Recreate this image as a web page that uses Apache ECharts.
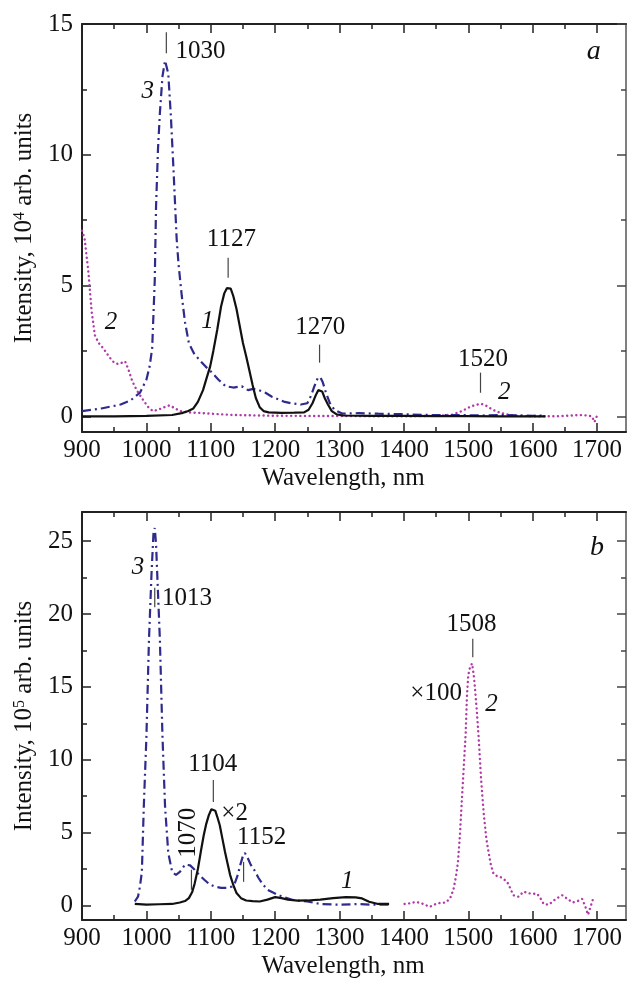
<!DOCTYPE html>
<html>
<head>
<meta charset="utf-8">
<script src="https://cdn.jsdelivr.net/npm/echarts@6/dist/echarts.min.js"></script>
<style>
  html, body { margin: 0; padding: 0; background: #fff; }
  #chart { width: 628px; height: 985px; }
</style>
</head>
<body>
<div id="chart"></div>
<script>
// ---- data (wavelength nm, intensity) ----
// panel a, units 10^4
const aCurve1 = [[900,0],[950,0],[1000,0.02],[1040,0.05],[1055,0.12],[1065,0.2],[1073,0.3],[1080,0.55],[1088,1.0],[1094,1.5],[1099,1.9],[1104,2.5],[1110,3.3],[1116,4.2],[1121,4.7],[1125,4.9],[1128,4.95],[1131,4.88],[1135,4.6],[1140,4.1],[1145,3.45],[1150,2.8],[1155,2.3],[1160,1.75],[1165,1.2],[1170,0.7],[1176,0.35],[1182,0.2],[1190,0.15],[1210,0.13],[1230,0.14],[1245,0.15],[1252,0.25],[1258,0.5],[1263,0.8],[1267,1.0],[1270,1.05],[1273,0.95],[1277,0.7],[1282,0.45],[1288,0.2],[1295,0.08],[1305,0.03],[1350,0.02],[1400,0.02],[1450,0.01],[1500,0.01],[1550,0],[1600,0],[1620,0]];
const aCurve2 = [[900,7.1],[904,6.8],[910,5.5],[915,4.0],[920,3.1],[926,2.8],[933,2.6],[943,2.25],[950,2.05],[956,2.0],[962,2.05],[967,2.1],[972,1.8],[978,1.35],[985,1.0],[995,0.62],[1003,0.35],[1010,0.2],[1018,0.25],[1026,0.33],[1036,0.42],[1045,0.3],[1052,0.2],[1065,0.15],[1082,0.13],[1100,0.1],[1134,0.05],[1200,0.02],[1300,0.01],[1400,0],[1450,0.02],[1475,0.06],[1490,0.2],[1500,0.33],[1510,0.43],[1520,0.48],[1530,0.38],[1537,0.26],[1548,0.15],[1558,0.08],[1575,0.02],[1600,0],[1634,0],[1655,0.02],[1672,0.05],[1685,0.03],[1692,0],[1696,-0.22],[1700,0.02]];
const aCurve3 = [[900,0.2],[930,0.3],[960,0.45],[975,0.6],[990,0.9],[1000,1.4],[1005,1.9],[1009,2.6],[1013,5.2],[1015,8.0],[1018,10.2],[1021,11.6],[1025,13.0],[1029,13.6],[1031,13.65],[1034,13.1],[1038,11.5],[1042,9.5],[1047,6.8],[1050,5.8],[1055,4.6],[1060,3.6],[1066,2.8],[1074,2.4],[1082,2.17],[1092,1.9],[1102,1.67],[1112,1.4],[1123,1.15],[1135,1.1],[1148,1.15],[1158,1.0],[1166,1.05],[1175,1.0],[1185,0.9],[1195,0.75],[1205,0.65],[1215,0.55],[1225,0.5],[1240,0.45],[1250,0.5],[1256,0.8],[1261,1.15],[1266,1.45],[1270,1.5],[1274,1.3],[1279,0.9],[1285,0.5],[1292,0.25],[1305,0.1],[1330,0.12],[1360,0.1],[1400,0.08],[1440,0.05],[1480,0.05],[1520,0.03],[1560,0.05],[1600,0.02],[1620,0.03]];

// panel b, units 10^5 (curve 1 x2, curve 2 x100)
const bCurve1 = [[982,0.1],[1000,0.05],[1020,0.08],[1040,0.1],[1052,0.2],[1060,0.3],[1066,0.5],[1071,0.9],[1075,1.5],[1080,2.5],[1085,3.8],[1089,4.8],[1093,5.6],[1097,6.2],[1101,6.6],[1104,6.67],[1107,6.5],[1110,6.1],[1114,5.5],[1118,4.6],[1122,3.7],[1126,2.9],[1130,2.1],[1135,1.4],[1140,0.85],[1147,0.5],[1155,0.34],[1165,0.3],[1176,0.27],[1188,0.4],[1200,0.57],[1210,0.5],[1220,0.4],[1235,0.33],[1250,0.34],[1270,0.4],[1290,0.5],[1310,0.57],[1325,0.55],[1335,0.48],[1346,0.25],[1360,0.1],[1377,0.1]];
const bCurve2 = [[1401,0.1],[1410,0.15],[1419,0.25],[1430,0.1],[1440,-0.1],[1452,0.15],[1465,0.2],[1472,0.5],[1477,1.1],[1481,2.0],[1484,3.0],[1487,4.8],[1490,7.2],[1493,9.5],[1496,11.8],[1498,14.4],[1500,15.8],[1503,16.4],[1506,16.6],[1509,15.6],[1511,14.6],[1513,13.5],[1516,11.6],[1520,8.6],[1524,6.3],[1528,4.6],[1531,3.8],[1535,2.8],[1539,2.2],[1545,2.0],[1550,1.95],[1555,1.8],[1560,1.65],[1565,1.2],[1570,0.7],[1578,0.6],[1586,0.95],[1592,0.85],[1599,0.8],[1607,0.8],[1612,0.5],[1617,0.1],[1625,0.05],[1636,0.45],[1646,0.7],[1654,0.45],[1662,0.2],[1670,0.3],[1677,0.45],[1682,-0.1],[1686,-0.64],[1692,0.2],[1695,0.6]];
const bCurve3 = [[982,0.27],[987,0.6],[990,1.3],[993,2.3],[996,6.8],[1000,11.5],[1004,18.2],[1008,22.8],[1011,25.5],[1013,25.9],[1015,24.8],[1018,21.5],[1021,18.2],[1025,11.6],[1029,6.8],[1034,3.6],[1040,2.3],[1046,2.1],[1052,2.3],[1060,2.8],[1068,2.75],[1075,2.45],[1082,2.1],[1090,1.76],[1098,1.45],[1106,1.3],[1116,1.2],[1126,1.2],[1133,1.3],[1138,1.6],[1142,2.1],[1146,2.8],[1150,3.4],[1153,3.6],[1157,3.3],[1162,2.8],[1168,2.4],[1174,1.9],[1180,1.5],[1188,1.08],[1196,0.9],[1204,0.73],[1215,0.55],[1225,0.4],[1238,0.32],[1250,0.27],[1270,0.1],[1300,0.05],[1330,0.1],[1350,0.05],[1377,0.05]];

// ticks
const xMajor = [900, 1000, 1100, 1200, 1300, 1400, 1500, 1600, 1700];
const xMinor = [950, 1050, 1150, 1250, 1350, 1450, 1550, 1650];
const aYMajor = [0, 5, 10, 15];
const aYMinor = [2.5, 7.5, 12.5];
const bYMajor = [0, 5, 10, 15, 20, 25];
const bYMinor = [2.5, 7.5, 12.5, 17.5, 22.5];

// annotations [text, wavelength, intensity, italic, rotated]
const aNotes = [
  ['1030', 1084, 13.97], ['1127', 1132, 6.75], ['1270', 1270, 3.39], ['1520', 1523, 2.17],
  ['3', 1002, 12.44, 1], ['1', 1095, 3.61, 1], ['2', 945, 3.58, 1], ['2', 1556, 0.9, 1], ['a', 1695, 13.93, 1]
];
const aPeakTicks = [[1031, 13.88, 14.68], [1127, 5.3, 6.06], [1269, 2.05, 2.74], [1519, 0.9, 1.67]];
const bNotes = [
  ['1013', 1063, 21.07], ['1508', 1505, 19.3], ['\u00d7100', 1450, 14.57], ['1104', 1103, 9.7],
  ['\u00d72', 1137, 6.28], ['1152', 1179, 4.64], ['1070', 1066, 4.98, 0, 1],
  ['3', 987, 23.2, 1], ['2', 1536, 13.8, 1], ['1', 1312, 1.62, 1], ['b', 1700, 24.57, 1]
];
const bPeakTicks = [[1013, 20.46, 21.8], [1507, 17.03, 18.3], [1104, 7.1, 8.61], [1151, 1.62, 2.99], [1070, 1.08, 2.45]];

const FONT = '"Liberation Serif", "Times New Roman", serif';
const INK = '#111';
const BLUE = '#2e2b8c';
const MAGENTA = '#b03aa6';
const X_MIN = 900, X_MAX = 1745;
const FS = 25;

const chart = echarts.init(document.getElementById('chart'));

const plain = v => String(v);

function xAxes(grid) {
  const base = { gridIndex: grid, type: 'value', min: X_MIN, max: X_MAX, splitLine: { show: false } };
  const line = { show: true, onZero: false, lineStyle: { color: '#222', width: 2 } };
  const hidden = { show: false, onZero: false };
  const tick = (vals, len) => ({ inside: true, length: len, customValues: vals, lineStyle: { color: '#222', width: 1.5 } });
  return [
    Object.assign({}, base, {
      position: 'bottom',
      axisLine: line,
      axisTick: tick(xMajor, 9),
      axisLabel: { customValues: xMajor, formatter: plain, margin: 6, fontFamily: FONT, fontSize: FS, color: INK },
      name: 'Wavelength, nm',
      nameLocation: 'middle',
      nameGap: 34,
      nameTextStyle: { fontFamily: FONT, fontSize: FS, color: INK, padding: [0, 22, 0, 0] }
    }),
    Object.assign({}, base, { position: 'bottom', axisLine: hidden, axisTick: tick(xMinor, 5), axisLabel: { show: false } }),
    Object.assign({}, base, { position: 'top', axisLine: line, axisTick: tick(xMajor, 9), axisLabel: { show: false } }),
    Object.assign({}, base, { position: 'top', axisLine: hidden, axisTick: tick(xMinor, 5), axisLabel: { show: false } })
  ];
}

function yAxes(grid, min, max, major, minor, exp) {
  const base = { gridIndex: grid, type: 'value', min: min, max: max, splitLine: { show: false } };
  const hidden = { show: false, onZero: false };
  const tick = (vals, len, c) => ({ inside: true, length: len, customValues: vals, lineStyle: { color: c, width: 1.5 } });
  return [
    Object.assign({}, base, {
      position: 'left',
      axisLine: { show: true, onZero: false, lineStyle: { color: '#222', width: 2 } },
      axisTick: tick(major, 9, '#222'),
      axisLabel: { customValues: major, formatter: plain, margin: 9, fontFamily: FONT, fontSize: FS, color: INK },
      name: '{t|Intensity, 10}{s|' + exp + '}{t| arb. units}',
      nameLocation: 'middle',
      nameRotate: 90,
      nameGap: 42,
      nameTextStyle: {
        color: INK,
        rich: {
          t: { fontFamily: FONT, fontSize: FS, color: INK },
          s: { fontFamily: FONT, fontSize: 16, color: INK, verticalAlign: 'top' }
        }
      }
    }),
    Object.assign({}, base, { position: 'left', axisLine: hidden, axisTick: tick(minor, 5, '#222'), axisLabel: { show: false } }),
    Object.assign({}, base, {
      position: 'right',
      axisLine: { show: true, onZero: false, lineStyle: { color: '#555', width: 1.5 } },
      axisTick: tick(major, 9, '#444'),
      axisLabel: { show: false }
    }),
    Object.assign({}, base, { position: 'right', axisLine: hidden, axisTick: tick(minor, 5, '#444'), axisLabel: { show: false } })
  ];
}

function curve(data, axis, style) {
  return {
    type: 'line',
    xAxisIndex: axis,
    yAxisIndex: axis,
    data: data,
    symbol: 'none',
    silent: true,
    lineStyle: style,
    z: style.z || 2
  };
}

const solid = { color: '#111', width: 2.2, type: 'solid', z: 4 };
const dashDot = { color: BLUE, width: 2.2, type: [9, 4, 2, 4], z: 3 };
const dotted = { color: MAGENTA, width: 2.4, type: [0.1, 4.5], cap: 'round', z: 2 };

// text labels placed through the axes
function notes(axis, list) {
  return {
    type: 'custom',
    xAxisIndex: axis,
    yAxisIndex: axis,
    silent: true,
    z: 6,
    clip: false,
    data: list.map(n => [n[1], n[2]]),
    renderItem: (params, api) => {
      const n = list[params.dataIndex];
      const p = api.coord([api.value(0), api.value(1)]);
      const big = n[0] === 'a' || n[0] === 'b';
      return {
        type: 'text',
        x: p[0],
        y: p[1],
        rotation: n[4] ? Math.PI / 2 : 0,
        style: {
          text: n[0],
          fill: INK,
          font: (n[3] ? 'italic ' : '') + (big ? 28 : FS) + 'px ' + FONT,
          align: 'center',
          verticalAlign: 'middle'
        }
      };
    }
  };
}

// short pointer lines above peaks
function pointers(axis, ticks) {
  return {
    type: 'custom',
    xAxisIndex: axis,
    yAxisIndex: axis,
    silent: true,
    z: 5,
    data: ticks,
    renderItem: (params, api) => {
      const a = api.coord([api.value(0), api.value(1)]);
      const b = api.coord([api.value(0), api.value(2)]);
      return {
        type: 'line',
        shape: { x1: a[0], y1: a[1], x2: b[0], y2: b[1] },
        style: { stroke: '#444', lineWidth: 1.2 }
      };
    }
  };
}

chart.setOption({
  animation: false,
  backgroundColor: '#fff',
  grid: [
    { left: 82, top: 24, width: 544, height: 408 },
    { left: 82, top: 512, width: 544, height: 408 }
  ],
  xAxis: xAxes(0).concat(xAxes(1)),
  yAxis: yAxes(0, -0.6, 15, aYMajor, aYMinor, 4).concat(yAxes(1, -1, 27, bYMajor, bYMinor, 5)),
  series: [
    curve(aCurve2, 0, dotted),
    curve(aCurve3, 0, dashDot),
    curve(aCurve1, 0, solid),
    pointers(0, aPeakTicks),
    notes(0, aNotes),
    curve(bCurve2, 4, dotted),
    curve(bCurve3, 4, dashDot),
    curve(bCurve1, 4, solid),
    pointers(4, bPeakTicks),
    notes(4, bNotes)
  ]
});
</script>
</body>
</html>
